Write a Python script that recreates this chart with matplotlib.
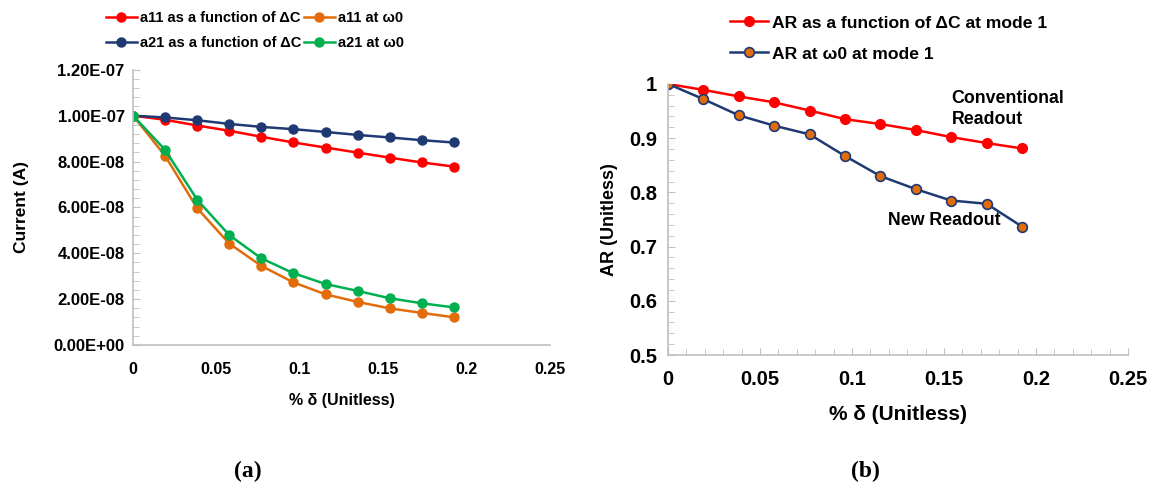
import matplotlib
matplotlib.use("Agg")
import matplotlib.pyplot as plt
from matplotlib.ticker import MultipleLocator, FuncFormatter

plt.rcParams['font.family'] = ['Liberation Sans', 'DejaVu Sans']

# ---- data ----
delta = [0, 0.0192, 0.0385, 0.0577, 0.0769, 0.0962, 0.1154, 0.1346, 0.1538, 0.1731, 0.1923]

a11_dC = [1.0e-7, 9.82e-8, 9.57e-8, 9.34e-8, 9.08e-8, 8.83e-8, 8.61e-8, 8.39e-8, 8.17e-8, 7.96e-8, 7.78e-8]
a11_w0 = [1.0e-7, 8.25e-8, 5.96e-8, 4.42e-8, 3.45e-8, 2.73e-8, 2.21e-8, 1.88e-8, 1.60e-8, 1.40e-8, 1.21e-8]
a21_dC = [1.0e-7, 9.92e-8, 9.80e-8, 9.64e-8, 9.51e-8, 9.41e-8, 9.29e-8, 9.16e-8, 9.05e-8, 8.93e-8, 8.83e-8]
a21_w0 = [1.0e-7, 8.51e-8, 6.33e-8, 4.79e-8, 3.78e-8, 3.13e-8, 2.66e-8, 2.36e-8, 2.04e-8, 1.82e-8, 1.64e-8]

ar_dC = [1.0, 0.989, 0.977, 0.966, 0.951, 0.935, 0.926, 0.915, 0.902, 0.891, 0.881]
ar_w0 = [1.0, 0.972, 0.942, 0.923, 0.907, 0.867, 0.830, 0.806, 0.785, 0.779, 0.737]

RED = '#FF0000'
ORANGE = '#E36C0A'
NAVY = '#1F3A73'
GREEN = '#00B050'
SPINE = '#BFBFBF'

fig = plt.figure(figsize=(11.53, 4.88), dpi=100)
axA = fig.add_axes([0.1154, 0.293, 0.3616, 0.564])
axB = fig.add_axes([0.5794, 0.2725, 0.3990, 0.5555])

def style(ax):
    for s in ['top', 'right']:
        ax.spines[s].set_visible(False)
    for s in ['left', 'bottom']:
        ax.spines[s].set_color(SPINE)
        ax.spines[s].set_linewidth(1.2)
    ax.tick_params(which='both', direction='in', color=SPINE)
    ax.tick_params(which='major', length=5)
    ax.tick_params(which='minor', length=4)

gfmt = FuncFormatter(lambda v, p: '{:g}'.format(round(v, 4)))

# ---- panel (a) ----
ms = 6.5
axA.plot(delta, a11_dC, color=RED, lw=1.8, marker='o', ms=ms, label='a11 as a function of ΔC')
axA.plot(delta, a21_dC, color=NAVY, lw=1.8, marker='o', ms=ms, label='a21 as a function of ΔC')
axA.plot(delta, a11_w0, color=ORANGE, lw=1.8, marker='o', ms=ms, label='a11 at ω0')
axA.plot(delta, a21_w0, color=GREEN, lw=1.8, marker='o', ms=ms, label='a21 at ω0')
axA.set_xlim(0, 0.25)
axA.set_ylim(0, 1.2e-7)
axA.xaxis.set_major_locator(MultipleLocator(0.05))
axA.xaxis.set_major_formatter(gfmt)
axA.yaxis.set_major_locator(MultipleLocator(2e-8))
axA.yaxis.set_minor_locator(MultipleLocator(4e-9))
axA.yaxis.set_major_formatter(FuncFormatter(lambda v, p: '{:.2E}'.format(v)))
style(axA)
axA.tick_params(axis='x', which='major', length=0, pad=12)
axA.tick_params(axis='y', which='major', pad=6)
for lab in axA.get_xticklabels():
    lab.set_fontsize(11.5)
    lab.set_fontweight('bold')
for lab in axA.get_yticklabels():
    lab.set_fontsize(12)
    lab.set_fontweight('bold')
axA.set_ylabel('Current (A)', fontsize=12.5, fontweight='bold')
axA.yaxis.set_label_coords(-0.25, 0.5)
axA.set_xlabel('% δ (Unitless)', fontsize=11.5, fontweight='bold', labelpad=12)
fig.legend(handles=axA.get_lines(), loc='center', bbox_to_anchor=(0.221, 0.937), ncol=2,
           frameon=False, prop={'weight': 'bold', 'size': 10.5}, handlelength=2.1, handletextpad=0.2,
           columnspacing=0.2, labelspacing=0.75, borderaxespad=0)

# ---- panel (b) ----
axB.plot(delta, ar_dC, color=RED, lw=1.8, marker='o', ms=7, label='AR as a function of ΔC at mode 1')
axB.plot(delta, ar_w0, color=NAVY, lw=1.8, marker='o', ms=7, mfc=ORANGE, mec=NAVY, mew=1.2,
         label='AR at ω0 at mode 1')
axB.set_xlim(0, 0.25)
axB.set_ylim(0.5, 1.0)
axB.xaxis.set_major_locator(MultipleLocator(0.05))
axB.xaxis.set_minor_locator(MultipleLocator(0.01))
axB.xaxis.set_major_formatter(gfmt)
axB.yaxis.set_major_locator(MultipleLocator(0.1))
axB.yaxis.set_minor_locator(MultipleLocator(0.02))
axB.yaxis.set_major_formatter(gfmt)
style(axB)
axB.tick_params(axis='x', which='major', pad=11)
axB.tick_params(axis='y', which='major', pad=8)
for lab in axB.get_xticklabels() + axB.get_yticklabels():
    lab.set_fontsize(14.5)
    lab.set_fontweight('bold')
axB.set_ylabel('AR (Unitless)', fontsize=13, fontweight='bold', labelpad=8)
axB.set_xlabel('% δ (Unitless)', fontsize=15, fontweight='bold', labelpad=11)
axB.text(0.154, 0.989, 'Conventional\nReadout', fontsize=12.8, fontweight='bold', ha='left', va='top',
         linespacing=1.35)
axB.text(0.1195, 0.749, 'New Readout', fontsize=12.8, fontweight='bold', ha='left', va='center')
fig.legend(handles=axB.get_lines(), loc='upper left', bbox_to_anchor=(0.627, 0.983), ncol=1,
           frameon=False, prop={'weight': 'bold', 'size': 12.6}, handlelength=2.2, handletextpad=0.2,
           labelspacing=0.9, borderaxespad=0)

# ---- panel labels ----
fig.text(0.215, 0.033, '(a)', fontsize=17, fontweight='bold', family=['Liberation Serif', 'DejaVu Serif'],
         ha='center', va='center')
fig.text(0.751, 0.033, '(b)', fontsize=17, fontweight='bold', family=['Liberation Serif', 'DejaVu Serif'],
         ha='center', va='center')

fig.savefig('out.png', dpi=100)
